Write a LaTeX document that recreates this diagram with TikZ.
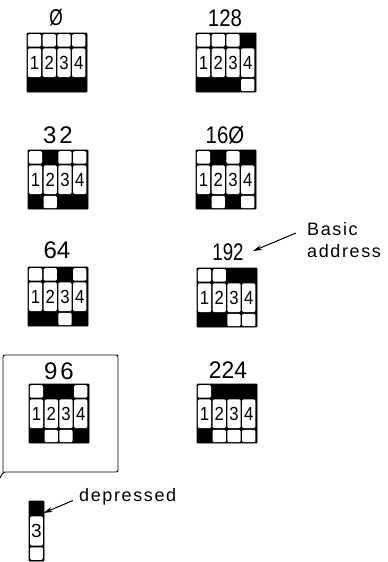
\documentclass[tikz,border=0pt]{standalone}
\usepackage{fontspec}
\setmainfont{Liberation Sans}
\newfontfamily\lblfont[LetterSpace=9]{Liberation Sans}
\usetikzlibrary{arrows.meta}
\tikzset{
  x=1pt,y=-1pt,
  blockbg/.style={fill=black,draw=black,line width=0.6pt,rounded corners=0.5pt},
  whitecell/.style={fill=white,draw=none,rounded corners=1.2pt},
  keydigit/.style={inner sep=0pt,font=\fontsize{19}{19}\selectfont},
  toplabel/.style={inner sep=0pt,font=\fontsize{24}{24}\selectfont},
  annot/.style={inner sep=0pt,anchor=west,font=\lblfont\fontsize{18}{18}\selectfont},
  pointer/.style={-{Stealth[length=9pt,width=5pt]},line width=1pt},
}
% #1 name, #2 x, #3 y, #4 white cells top row, #5 white cells bottom row (0: none)
\newcommand{\keyblock}[5]{%
  \begin{scope}[shift={(#2,#3)}]
    \path[blockbg] (0,0) rectangle (60,59);
    \foreach \c in {#4} {\path[whitecell] ({0.9+(\c-1)*14.75},1.2) rectangle ({14+(\c-1)*14.75},13.6);}
    \foreach \c in {1,2,3,4} {
      \path[whitecell] ({0.9+(\c-1)*14.75},15.4) rectangle ({14+(\c-1)*14.75},44);
      \node[keydigit] (#1k\c) at ({7.4+(\c-1)*14.75},30) {\scalebox{0.88}[1]{\c}};
    }
    \foreach \c in {#5} {\ifnum\c>0 \path[whitecell] ({0.9+(\c-1)*14.75},45.8) rectangle ({14+(\c-1)*14.75},58.2);\fi}
  \end{scope}}
\begin{document}
\begin{tikzpicture}
\useasboundingbox (0,0) rectangle (388,562);
\fill[white] (0,0) rectangle (388,562);

\keyblock{a}{27}{33}{1,2,3,4}{0}
\keyblock{b}{28}{150}{1,3,4}{2}
\keyblock{c}{28}{267}{1,2,4}{3}
\keyblock{d}{29}{384}{1,4}{2,3}
\keyblock{e}{196}{33}{1,2,3}{4}
\keyblock{f}{196}{150}{1,3}{2,4}
\keyblock{g}{197}{268}{1,2}{3,4}
\keyblock{h}{197}{384}{1}{2,3,4}

\node[toplabel] (la) at (56,18) {\scalebox{0.72}[0.95]{Ø}};
\node[toplabel] (lb) at (58,135) {3\hspace{3pt}2};
\node[toplabel] (lc) at (57,250.5) {64};
\node[toplabel] (ld) at (59,371) {9\hspace{3pt}6};
\node[toplabel] (le) at (225,18) {\scalebox{0.85}[1]{128}};
\node[toplabel] (lf) at (225,135) {\scalebox{0.85}[1]{16Ø}};
\node[toplabel] (lg) at (228,252) {\scalebox{0.78}[1]{192}};
\node[toplabel] (lh) at (228,370) {\scalebox{0.95}[1]{224}};

% frame round 96
\coordinate (fa) at (3,355);
\coordinate (fb) at (3,472);
\coordinate (fc) at (118,472);
\coordinate (fd) at (118,355);
\coordinate (fe) at (0,478);
\draw[line width=0.9pt,rounded corners=2pt] (fe) -- (fb) -- (fc) -- (fd) -- (fa) -- (fb);

% single depressed key
\begin{scope}[shift={(29,501)}]
  \path[blockbg] (0,0) rectangle (15,60);
  \path[whitecell] (1.2,15.4) rectangle (13.8,44.5);
  \path[whitecell] (1.2,46.3) rectangle (13.8,58.8);
  \node[keydigit] (onekey) at (7.5,30) {3};
\end{scope}

\node[annot] (dep) at (79,497) {depressed};
\coordinate (depfrom) at (73,500.5);
\coordinate (depto) at (43.5,513);
\draw[pointer] (depfrom) -- (depto);

\node[annot] (bas1) at (307,229) {Basic};
\node[annot] (bas2) at (307,251) {address};
\coordinate (basfrom) at (296,233);
\coordinate (basto) at (253,251);
\draw[pointer] (basfrom) -- (basto);
\end{tikzpicture}
\end{document}
